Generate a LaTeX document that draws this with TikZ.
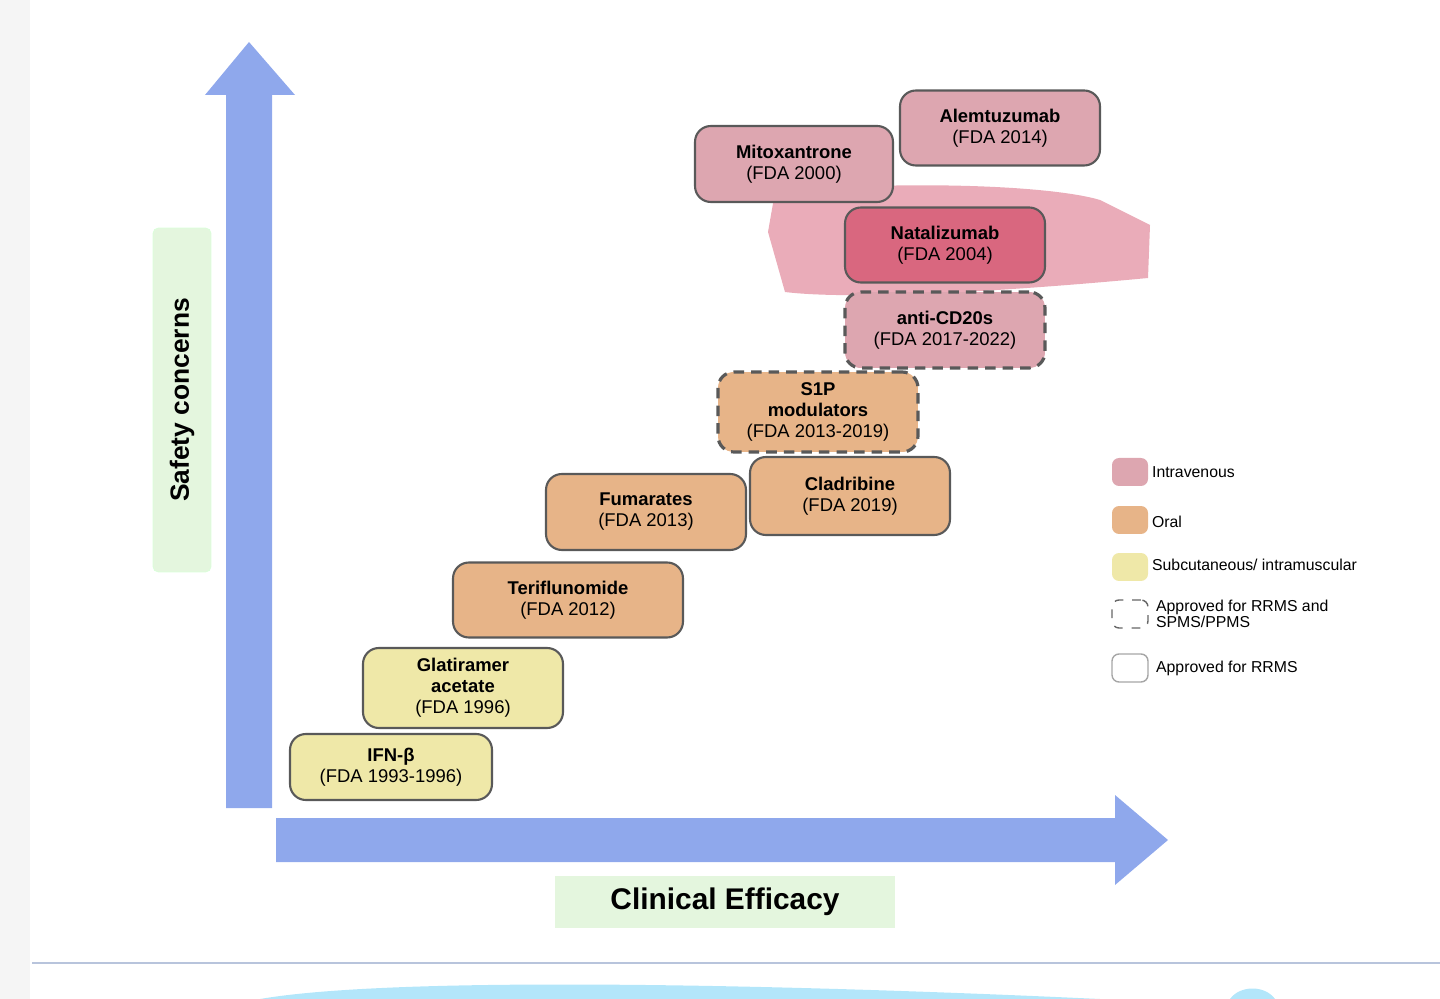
\documentclass[tikz,border=0pt]{standalone}
\usepackage{fontspec}
\setmainfont{Liberation Sans}
\usepackage{tikz}
\usetikzlibrary{positioning}
\definecolor{ivpink}{HTML}{DDA6B0}
\definecolor{ivdark}{HTML}{D9677F}
\definecolor{oral}{HTML}{E7B488}
\definecolor{subq}{HTML}{EFE8A8}
\definecolor{axisblue}{HTML}{8FA8EC}
\definecolor{labelgreen}{HTML}{E4F6DE}
\tikzset{
  every picture/.style = {
    x = 0.02cm,
    y = -0.02cm,
  }
  ,
  drug/.style = {
    rectangle,
    rounded corners = 9pt,
    draw = black!65,
    line width = 1.2pt,
    align = center,
    font = \fontsize{10.5}{12}\selectfont,
    inner sep = 2pt
  }
  , % dashed border = RRMS and SPMS/PPMS
  both/.style = {
    dash pattern = on 6pt off 4pt,
    line width = 1.8pt
  }
  ,
  swatch/.style = {
    rectangle,
    rounded corners = 4pt,
    minimum width = 0.72cm,
    minimum height = 0.56cm
  }
  ,
  legend/.style = {
    font = \fontsize{9}{9.5}\selectfont,
    align = left,
    anchor = west,
    inner sep = 1pt
  }
}

\begin{document}
\begin{tikzpicture}
  \useasboundingbox (0,0) rectangle (1440,999);
  % page background
  \fill[black!4] (0,0) rectangle (30,999);
  \draw[color={rgb,255:red,184;green,196;blue,220}, line width=1.5pt] (32,963) -- (1440,963);
  \fill[cyan!30] (260,999) .. controls (400,975) and (800,985) .. (1100,999) -- cycle;
  \fill[cyan!30] (1230,999) .. controls (1240,985) and (1265,985) .. (1275,999) -- cycle;

  % axes
  \fill[axisblue] (226,808) -- (226,95) -- (205,95) -- (249,42) -- (295,95) -- (272,95) -- (272,808) -- cycle;
  \fill[axisblue] (276,818) -- (1115,818) -- (1115,795) -- (1168,840) -- (1115,885) -- (1115,862) -- (276,862) -- cycle;

  \node[fill=labelgreen, draw=green!15, rounded corners=3pt, minimum width=0.58cm*2, minimum height=6.88cm, inner sep=0pt] (safety) at (182,400) {};
  \node[rotate=90, font=\fontsize{15}{15}\selectfont\bfseries] at (safety) {Safety concerns};
  \node[fill=labelgreen, minimum width=6.8cm, minimum height=1.04cm, font=\fontsize{17}{17}\selectfont\bfseries] (efficacy) at (725,902) {Clinical Efficacy};

  % highlight behind Natalizumab
  \fill[ivdark, opacity=0.55] (775,192) .. controls (900,180) and (1050,185) .. (1100,200)
        -- (1150,225) -- (1148,278) .. controls (1000,292) and (850,300) .. (785,292)
        -- (768,232) -- cycle;

  % drugs
  \node[drug, fill=ivpink, minimum width=4cm, minimum height=1.5cm] (alem) at (1000,128) {\textbf{Alemtuzumab}\\(FDA 2014)};
  \node[drug, fill=ivpink, minimum width=3.96cm, minimum height=1.52cm] (mito) at (794,164) {\textbf{Mitoxantrone}\\(FDA 2000)};
  \node[drug, fill=ivdark, minimum width=4cm, minimum height=1.5cm] (nata) at (945,245) {\textbf{Natalizumab}\\(FDA 2004)};
  \node[drug, both, fill=ivpink, minimum width=4cm, minimum height=1.52cm] (cd20) at (945,330) {\textbf{anti-CD20s}\\(FDA 2017-2022)};
  \node[drug, both, fill=oral, minimum width=4cm, minimum height=1.6cm] (s1p) at (818,412) {\textbf{S1P}\\\textbf{modulators}\\(FDA 2013-2019)};
  \node[drug, fill=oral, minimum width=4cm, minimum height=1.56cm] (clad) at (850,496) {\textbf{Cladribine}\\(FDA 2019)};
  \node[drug, fill=oral, minimum width=4cm, minimum height=1.52cm] (fuma) at (646,512) {\textbf{Fumarates}\\(FDA 2013)};
  \node[drug, fill=oral, minimum width=4.6cm, minimum height=1.5cm] (teri) at (568,600) {\textbf{Teriflunomide}\\(FDA 2012)};
  \node[drug, fill=subq, minimum width=4cm, minimum height=1.6cm] (glat) at (463,688) {\textbf{Glatiramer}\\\textbf{acetate}\\(FDA 1996)};
  \node[drug, fill=subq, minimum width=4.04cm, minimum height=1.32cm] (ifn) at (391,767) {\textbf{IFN-β}\\(FDA 1993-1996)};

  % legend
  \node[swatch, fill=ivpink] (sw1) at (1130,472) {};
  \node[legend] at (1150,472) {Intravenous};
  \node[swatch, fill=oral] (sw2) at (1130,520) {};
  \node[legend] at (1150,522) {Oral};
  \node[swatch, fill=subq] (sw3) at (1130,567) {};
  \node[legend] at (1150,565) {Subcutaneous/ intramuscular};
  \node[swatch, draw=black!60, thick, dash pattern=on 5pt off 5pt] (sw4) at (1130,614) {};
  \node[legend] at (1154,614) {Approved for RRMS and\\SPMS/PPMS};
  \node[swatch, draw=black!35, thick] (sw5) at (1130,668) {};
  \node[legend] at (1154,668) {Approved for RRMS};
\end{tikzpicture}
\end{document}
